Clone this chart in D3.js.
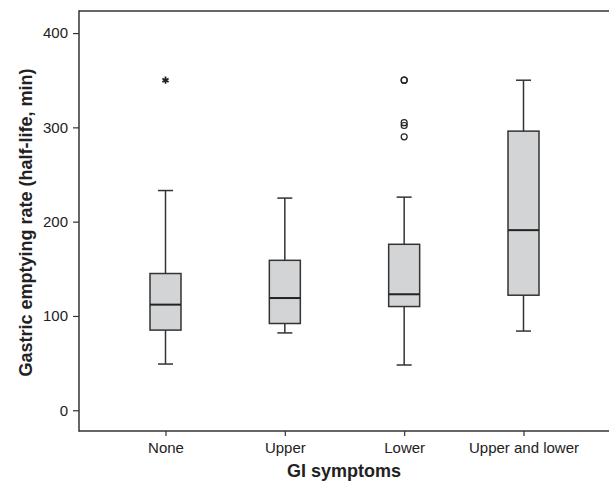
<!DOCTYPE html>
<html>
<head>
<meta charset="utf-8">
<script src="https://cdn.jsdelivr.net/npm/d3@7"></script>
<style>
  html, body { margin: 0; background: #fff; overflow: hidden; }
  svg { display: block; }
  text { font-family: "Liberation Sans", Arial, sans-serif; fill: #222; }
</style>
</head>
<body>
<div id="chart"></div>
<script>
const width = 609;
const height = 481;

const categories = ["None", "Upper", "Lower", "Upper and lower"];
const whiskerLow = [49, 82, 48, 84];
const q1 = [85, 92, 110, 122];
const medians = [112, 119, 123, 191];
const q3 = [145, 159, 176, 296];
const whiskerHigh = [233, 225, 226, 350];
// circles = outliers, stars = extreme values
const outlierGroup = ["Lower", "Lower", "Lower", "Lower", "Lower"];
const outlierValues = [350, 350, 305, 302, 290];
const extremeGroup = ["None"];
const extremeValues = [350];
const yTicks = [0, 100, 200, 300, 400];

const plotLeft = 79, plotTop = 11, plotBottom = 431, plotRight = 609;

const svg = d3.select('#chart')
  .append('svg')
  .attr('width', width)
  .attr('height', height);

const yScale = d3.scaleLinear()
  .domain([-22, 423.4])
  .range([plotBottom, plotTop]);

const xScale = d3.scalePoint()
  .domain(categories)
  .range([165.5, 523.5]);

const boxWidth = 31;
const capWidth = 15;

// frame lines
svg.append('line')
  .attr('x1', plotLeft).attr('x2', plotRight)
  .attr('y1', plotTop).attr('y2', plotTop)
  .attr('stroke', '#333').attr('stroke-width', 1.5);

const yAxis = svg.append('g')
  .attr('transform', `translate(${plotLeft},0)`)
  .call(d3.axisLeft(yScale).tickValues(yTicks).tickSize(6).tickPadding(5));

const xAxis = svg.append('g')
  .attr('transform', `translate(0,${plotBottom})`)
  .call(d3.axisBottom(xScale).tickSize(5).tickPadding(6));

[yAxis, xAxis].forEach(g => {
  g.select('.domain').remove();
  g.selectAll('line').attr('stroke', '#333').attr('stroke-width', 1.2);
  g.selectAll('text').style('font-size', '15px').attr('fill', '#222');
});

svg.append('line')
  .attr('x1', plotLeft).attr('x2', plotLeft)
  .attr('y1', plotTop - 0.75).attr('y2', plotBottom + 0.75)
  .attr('stroke', '#333').attr('stroke-width', 1.5);
svg.append('line')
  .attr('x1', plotLeft).attr('x2', plotRight)
  .attr('y1', plotBottom).attr('y2', plotBottom)
  .attr('stroke', '#333').attr('stroke-width', 1.5);

// boxes
const groups = svg.selectAll('.box')
  .data(categories)
  .enter()
  .append('g')
  .attr('class', 'box');

groups.append('line')
  .attr('x1', d => xScale(d)).attr('x2', d => xScale(d))
  .attr('y1', (d, i) => yScale(whiskerLow[i]))
  .attr('y2', (d, i) => yScale(whiskerHigh[i]))
  .attr('stroke', '#333').attr('stroke-width', 1.5);

groups.append('line')
  .attr('x1', d => xScale(d) - capWidth / 2).attr('x2', d => xScale(d) + capWidth / 2)
  .attr('y1', (d, i) => yScale(whiskerLow[i]))
  .attr('y2', (d, i) => yScale(whiskerLow[i]))
  .attr('stroke', '#333').attr('stroke-width', 1.5);

groups.append('line')
  .attr('x1', d => xScale(d) - capWidth / 2).attr('x2', d => xScale(d) + capWidth / 2)
  .attr('y1', (d, i) => yScale(whiskerHigh[i]))
  .attr('y2', (d, i) => yScale(whiskerHigh[i]))
  .attr('stroke', '#333').attr('stroke-width', 1.5);

groups.append('rect')
  .attr('x', d => xScale(d) - boxWidth / 2)
  .attr('width', boxWidth)
  .attr('y', (d, i) => yScale(q3[i]))
  .attr('height', (d, i) => yScale(q1[i]) - yScale(q3[i]))
  .attr('fill', '#d3d4d6')
  .attr('stroke', '#333').attr('stroke-width', 1.5);

groups.append('line')
  .attr('x1', d => xScale(d) - boxWidth / 2).attr('x2', d => xScale(d) + boxWidth / 2)
  .attr('y1', (d, i) => yScale(medians[i]))
  .attr('y2', (d, i) => yScale(medians[i]))
  .attr('stroke', '#222').attr('stroke-width', 2);

// outliers
svg.selectAll('.outlier')
  .data(outlierValues)
  .enter()
  .append('circle')
  .attr('class', 'outlier')
  .attr('cx', (d, i) => xScale(outlierGroup[i]))
  .attr('cy', d => yScale(d))
  .attr('r', 3)
  .attr('fill', 'none')
  .attr('stroke', '#222')
  .attr('stroke-width', 1.2);

svg.selectAll('.extreme')
  .data(extremeValues)
  .enter()
  .append('path')
  .attr('class', 'extreme')
  .attr('transform', (d, i) => `translate(${xScale(extremeGroup[i])},${yScale(d)})`)
  .attr('d', d3.symbol(d3.symbolAsterisk, 36))
  .attr('fill', 'none')
  .attr('stroke', '#222')
  .attr('stroke-width', 1.8);

// axis titles
svg.append('text')
  .attr('x', 344)
  .attr('y', 477)
  .attr('text-anchor', 'middle')
  .style('font-size', '18px')
  .style('font-weight', 'bold')
  .text('GI symptoms');

svg.append('text')
  .attr('transform', 'translate(32,222.5) rotate(-90)')
  .attr('text-anchor', 'middle')
  .style('font-size', '18px')
  .style('font-weight', 'bold')
  .text('Gastric emptying rate (half-life, min)');
</script>
</body>
</html>
